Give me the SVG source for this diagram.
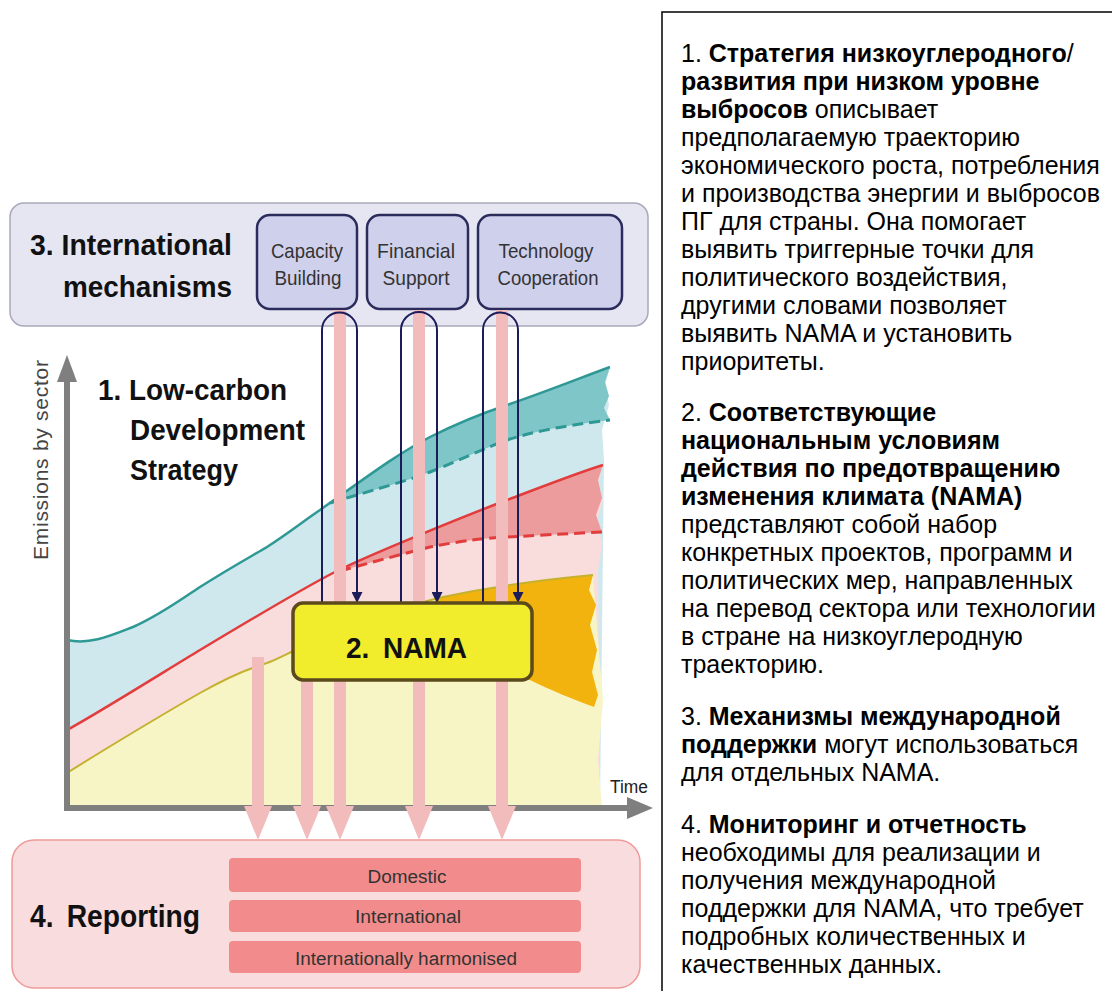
<svg xmlns="http://www.w3.org/2000/svg" width="1112" height="991" viewBox="0 0 1112 991">
<style>
.lbl{font-family:"Liberation Sans",Arial,sans-serif;}
.title{font-family:"Liberation Sans",Arial,sans-serif;font-weight:bold;fill:#111;}
.sub{font-family:"Liberation Sans",Arial,sans-serif;font-size:21px;fill:#333;text-anchor:middle;}
.rep{font-family:"Liberation Sans",Arial,sans-serif;font-size:18px;fill:#333;text-anchor:middle;}
.subbox{fill:#cfd0ec;stroke:#2c2c5c;stroke-width:2.5;}
.bar{fill:#f28c8c;}
.pink{stroke:#f2bcbc;stroke-width:12;fill:none;marker-end:url(#pinkHead);}
.navy{stroke:#1c1c5a;stroke-width:2;fill:none;}
.navyarr{stroke:#1c1c5a;stroke-width:2;fill:none;marker-end:url(#navyHead);}
.desc{font-family:"Liberation Sans",Arial,sans-serif;font-size:25px;fill:#000;}
.b{font-weight:bold;}
</style>
<defs>
<marker id="pinkHead" markerUnits="userSpaceOnUse" viewBox="0 0 34 28" markerWidth="34" markerHeight="28" refX="9" refY="14" orient="auto">
<path d="M0,0 L34,14 L0,28 Z" fill="#f2bcbc"/>
</marker>
<marker id="navyHead" markerUnits="userSpaceOnUse" viewBox="0 0 11 11" markerWidth="11" markerHeight="11" refX="10" refY="5.5" orient="auto">
<path d="M0,0 L11,5.5 L0,11 Z" fill="#1c1c5a"/>
</marker>
</defs>
<rect width="1112" height="991" fill="#ffffff"/>

<g id="intl-mechanisms">
<rect x="10" y="203" width="638" height="123" rx="14" fill="#e6e6f3" stroke="#a9a9bb" stroke-width="1.5"/>
<text class="title" font-size="30" x="30" y="255" textLength="202" lengthAdjust="spacingAndGlyphs">3. International</text>
<text class="title" font-size="30" x="63" y="297" textLength="169" lengthAdjust="spacingAndGlyphs">mechanisms</text>
</g>
<g id="capacity-building">
<rect class="subbox" x="257" y="215" width="100" height="94" rx="13"/>
<text class="sub" x="307" y="258" textLength="72" lengthAdjust="spacingAndGlyphs">Capacity</text>
<text class="sub" x="308" y="285" textLength="67" lengthAdjust="spacingAndGlyphs">Building</text>
</g>
<g id="financial-support">
<rect class="subbox" x="367" y="215" width="101" height="94" rx="13"/>
<text class="sub" x="416" y="258" textLength="78" lengthAdjust="spacingAndGlyphs">Financial</text>
<text class="sub" x="416" y="285" textLength="67" lengthAdjust="spacingAndGlyphs">Support</text>
</g>
<g id="technology-cooperation">
<rect class="subbox" x="478" y="215" width="144" height="94" rx="13"/>
<text class="sub" x="546" y="258" textLength="95" lengthAdjust="spacingAndGlyphs">Technology</text>
<text class="sub" x="548" y="285" textLength="101" lengthAdjust="spacingAndGlyphs">Cooperation</text>
</g>

<g id="reporting">
<rect x="12" y="840" width="628" height="148" rx="22" fill="#f9dcdd" stroke="#ef9a9a" stroke-width="1.5"/>
<text class="title" font-size="32" x="30" y="927" textLength="170" lengthAdjust="spacingAndGlyphs">4. <tspan dx="6">Reporting</tspan></text>
</g>
<g id="domestic">
<rect class="bar" x="229" y="858" width="352" height="34" rx="4"/>
<text class="rep" x="407" y="883" textLength="79" lengthAdjust="spacingAndGlyphs">Domestic</text>
</g>
<g id="international">
<rect class="bar" x="229" y="900" width="352" height="32" rx="4"/>
<text class="rep" x="408" y="923" textLength="106" lengthAdjust="spacingAndGlyphs">International</text>
</g>
<g id="internationally-harmonised">
<rect class="bar" x="229" y="941" width="352" height="32" rx="4"/>
<text class="rep" x="406" y="965" textLength="222" lengthAdjust="spacingAndGlyphs">Internationally harmonised</text>
</g>

<g id="chart">
<!-- light blue area under teal -->
<path d="M67,640 C90,645 110,636 133,627 C160,615 180,600 200,587 C230,568 250,557 267,547 C290,532 305,520 320,510 C360,482 395,455 430,437 C460,422 480,414 507,405 C545,392 580,378 610,367 L605,385 L609,405 L602,430 L604,460 L600,808 L67,808 Z" fill="#cfe8ee"/>
<!-- dark teal band -->
<path d="M320,510 C360,482 395,455 430,437 C460,422 480,414 507,405 C545,392 580,378 610,367 L605,382 L609,396 L604,408 L610,420 C580,424 545,428 507,440 C485,448 460,460 430,472 C410,480 380,488 330,503 Z" fill="#7fc6c9"/>
<!-- light pink area under red -->
<path d="M67,730 C100,712 170,668 200,650 C230,632 300,590 333,573 C366,556 470,514 507,500 C544,486 580,472 603,465 L598,482 L603,500 L597,520 L602,545 L598,570 L600,808 L67,808 Z" fill="#f9dcdc"/>
<!-- salmon band -->
<path d="M333,573 C366,556 470,514 507,500 C544,486 580,472 603,465 L598,480 L602,498 L596,515 L602,532 C580,533 545,535 507,537 C485,538 460,541 430,547 C410,552 380,560 340,571 Z" fill="#ec9c9c"/>
<!-- light yellow area under olive line -->
<path d="M67,773 C100,752 170,710 200,693 C230,676 250,668 267,663 C280,658 290,652 300,648 C350,625 400,607 443,597 C500,585 550,579 593,575 L598,640 L603,700 L598,760 L602,808 L67,808 Z" fill="#f7f5c6"/>
<!-- orange region -->
<path d="M430,603 L443,597 C500,585 550,579 593,575 L589,590 L596,605 L590,625 L597,650 L592,672 L598,695 L594,707 C575,700 550,690 530,680 L430,680 Z" fill="#f2b30e"/>
<!-- lines -->
<path d="M67,640 C90,645 110,636 133,627 C160,615 180,600 200,587 C230,568 250,557 267,547 C290,532 305,520 320,510 C360,482 395,455 430,437 C460,422 480,414 507,405 C545,392 580,378 610,367" fill="none" stroke="#2e9894" stroke-width="2.5"/>
<path d="M330,503 C380,488 410,480 430,472 C460,460 485,448 507,440 C545,428 580,424 610,420" fill="none" stroke="#2e9894" stroke-width="3" stroke-dasharray="11 6"/>
<path d="M67,730 C100,712 170,668 200,650 C230,632 300,590 333,573 C366,556 470,514 507,500 C544,486 580,472 603,465" fill="none" stroke="#e23c3c" stroke-width="2.5"/>
<path d="M340,571 C380,560 410,552 430,547 C460,541 485,538 507,537 C545,535 580,533 602,532" fill="none" stroke="#e23c3c" stroke-width="3" stroke-dasharray="11 6"/>
<path d="M67,773 C100,752 170,710 200,693 C230,676 250,668 267,663 C280,658 290,652 300,648 C350,625 400,607 443,597 C500,585 550,579 593,575" fill="none" stroke="#c4b12e" stroke-width="2"/>
<!-- axes -->
<line x1="67" y1="811" x2="67" y2="378" stroke="#7f7f7f" stroke-width="6"/>
<polygon points="67,355 57,382 77,382" fill="#7f7f7f"/>
<line x1="64" y1="808" x2="630" y2="808" stroke="#7f7f7f" stroke-width="6"/>
<polygon points="653,808 627,797 627,819" fill="#7f7f7f"/>
<text class="lbl" font-size="21" fill="#444" text-anchor="middle" transform="translate(48,460) rotate(-90)" textLength="200" lengthAdjust="spacing">Emissions by sector</text>
<text class="lbl" font-size="18" fill="#222" x="610" y="793" textLength="38" lengthAdjust="spacingAndGlyphs">Time</text>
<text class="title" font-size="29" x="98" y="400" textLength="189" lengthAdjust="spacingAndGlyphs">1. Low-carbon</text>
<text class="title" font-size="29" x="130" y="440" textLength="175" lengthAdjust="spacingAndGlyphs">Development</text>
<text class="title" font-size="29" x="130" y="480" textLength="108" lengthAdjust="spacingAndGlyphs">Strategy</text>
</g>

<g id="connectors">
<line class="pink" x1="340" y1="310" x2="340" y2="815"/>
<line class="pink" x1="419" y1="310" x2="419" y2="815"/>
<line class="pink" x1="502" y1="310" x2="502" y2="815"/>
<line class="pink" x1="258" y1="657" x2="258" y2="815"/>
<line class="pink" x1="307" y1="678" x2="307" y2="815"/>
<path class="navyarr" d="M322,603 V330 A17.5,17.5 0 0 1 357,330 V602"/>
<path class="navyarr" d="M401,603 V330 A18,18 0 0 1 437,330 V602"/>
<path class="navyarr" d="M483,603 V330 A17.5,17.5 0 0 1 518,330 V602"/>
</g>

<g id="nama">
<rect x="293" y="603" width="239" height="77" rx="10" fill="#f1ec2c" stroke="#5b4a1c" stroke-width="3.5"/>
<text class="title" font-size="29" x="346" y="658" textLength="121" lengthAdjust="spacingAndGlyphs">2. <tspan dx="6">NAMA</tspan></text>
</g>

<g id="description">
<rect x="662" y="12" width="470" height="1000" fill="#ffffff" stroke="#000" stroke-width="1.5"/>
<text class="desc" x="681" y="62">1. <tspan class="b">Стратегия низкоуглеродного</tspan>/</text>
<text class="desc b" x="681" y="90">развития при низком уровне</text>
<text class="desc" x="681" y="118"><tspan class="b">выбросов</tspan> описывает</text>
<text class="desc" x="681" y="146">предполагаемую траекторию</text>
<text class="desc" x="681" y="174">экономического роста, потребления</text>
<text class="desc" x="681" y="202">и производства энергии и выбросов</text>
<text class="desc" x="681" y="230">ПГ для страны. Она помогает</text>
<text class="desc" x="681" y="258">выявить триггерные точки для</text>
<text class="desc" x="681" y="286">политического воздействия,</text>
<text class="desc" x="681" y="314">другими словами позволяет</text>
<text class="desc" x="681" y="342">выявить NAMA и установить</text>
<text class="desc" x="681" y="370">приоритеты.</text>

<text class="desc" x="681" y="421">2. <tspan class="b">Соответствующие</tspan></text>
<text class="desc b" x="681" y="449">национальным условиям</text>
<text class="desc b" x="681" y="477">действия по предотвращению</text>
<text class="desc b" x="681" y="505">изменения климата (NAMA)</text>
<text class="desc" x="681" y="533">представляют собой набор</text>
<text class="desc" x="681" y="561">конкретных проектов, программ и</text>
<text class="desc" x="681" y="589">политических мер, направленных</text>
<text class="desc" x="681" y="617">на перевод сектора или технологии</text>
<text class="desc" x="681" y="645">в стране на низкоуглеродную</text>
<text class="desc" x="681" y="673">траекторию.</text>

<text class="desc" x="681" y="725">3. <tspan class="b">Механизмы международной</tspan></text>
<text class="desc" x="681" y="753"><tspan class="b">поддержки</tspan> могут использоваться</text>
<text class="desc" x="681" y="781">для отдельных NAMA.</text>

<text class="desc" x="681" y="833">4. <tspan class="b">Мониторинг и отчетность</tspan></text>
<text class="desc" x="681" y="861">необходимы для реализации и</text>
<text class="desc" x="681" y="889">получения международной</text>
<text class="desc" x="681" y="917">поддержки для NAMA, что требует</text>
<text class="desc" x="681" y="945">подробных количественных и</text>
<text class="desc" x="681" y="973">качественных данных.</text>
</g>
</svg>
